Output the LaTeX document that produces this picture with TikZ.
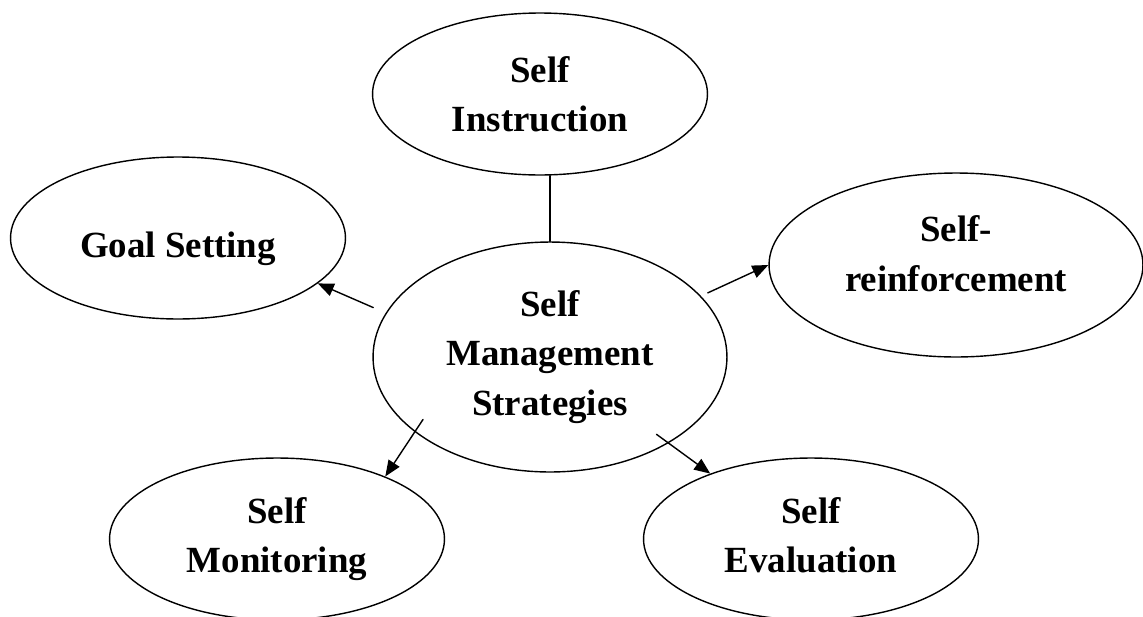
\documentclass[tikz,border=0pt]{standalone}
\usepackage{fontspec}
\setmainfont{Liberation Serif}
\usetikzlibrary{shapes.geometric,arrows.meta}
\tikzset{
	oval/.style={draw,ellipse,inner sep=0pt,minimum width=6.7cm,minimum height=3.24cm,align=center},
}
\begin{document}
\begin{tikzpicture}[line join = round, line cap = round,>={Triangle[length=3.2mm,width=2.6mm]},x=0.02cm,y=-0.02cm,line width=0.8pt,font=\fontsize{21}{28}\selectfont\bfseries]
		\useasboundingbox (0,0) rectangle (1143,616);
		%các hình elip
		\node[oval,minimum width=7.08cm,minimum height=4.6cm] (smc) at (550,357) {Self\\Management\\Strategies};
		\node[oval] (instr) at (540,94) {Self\\Instruction};
		\node[oval,text height=0.76cm,text depth=0pt] (goal) at (178,238) {Goal Setting};
		\node[oval,minimum width=7.48cm,minimum height=3.68cm,text depth=0.46cm] (reinf) at (956,265) {Self-\\reinforcement};
		\node[oval] (monit) at (277,539) {Self\\Monitoring};
		\node[oval,text depth=0.16cm] (evalu) at (811,539) {Self\\Evaluation};
		\draw (smc.north) -- (smc.north |- instr.south);
		\draw[->,shorten <=0.27cm] (smc.165) -- (goal.-18.6);
		\draw[->,shorten <=0.15cm] (smc.22.2) -- (reinf.west);
		\foreach \a/\b/\c in {209.2/monit/30.3,-36.7/evalu/147.8}
		\draw[->,shorten <=-0.3cm] (smc.\a) -- (\b.\c);
	\end{tikzpicture}
\end{document}
